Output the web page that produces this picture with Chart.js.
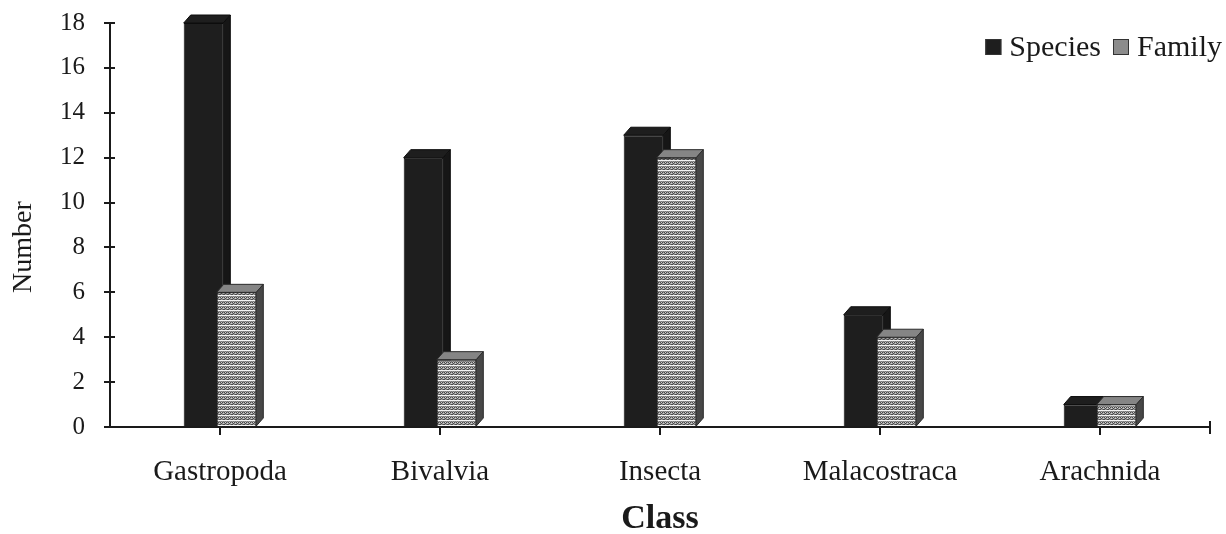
<!DOCTYPE html>
<html>
<head>
<meta charset="utf-8">
<title>Species and families per class</title>
<script src="https://cdn.jsdelivr.net/npm/chart.js@4.4.1/dist/chart.umd.min.js"></script>
<style>
  html, body { margin: 0; padding: 0; background: #ffffff; }
  #wrap { width: 1226px; height: 534px; }
</style>
</head>
<body>
<div id="wrap"><canvas id="chart" width="1226" height="534"></canvas></div>
<script>
// ---- data ----
const classes = ['Gastropoda', 'Bivalvia', 'Insecta', 'Malacostraca', 'Arachnida'];
const speciesCounts = [18, 12, 13, 5, 1];
const familyCounts = [6, 3, 12, 4, 1];
const yTickValues = [0, 2, 4, 6, 8, 10, 12, 14, 16, 18];
const seriesNames = ['Species', 'Family'];
const xAxisTitle = 'Class';
const yAxisTitle = 'Number';

// ---- styling ----
const FONT = "'Liberation Serif', 'Times New Roman', serif";
const INK = '#1a1a1a';
const depth = { dx: 7, dy: 8 };

// dotted grey texture with thin white rules for the family columns
function makeFamilyPattern(ctx) {
  const p = document.createElement('canvas');
  p.width = 4; p.height = 5;
  const g = p.getContext('2d');
  g.fillStyle = '#9a9a9a'; g.fillRect(0, 0, 4, 5);
  g.fillStyle = '#f4f4f4'; g.fillRect(0, 0, 4, 1);
  g.fillStyle = '#d0d0d0'; g.fillRect(1, 2, 1, 1); g.fillRect(3, 3, 1, 1);
  g.fillStyle = '#4a4a4a';
  g.fillRect(0, 2, 1, 1); g.fillRect(2, 2, 1, 1);
  g.fillRect(1, 3, 1, 1); g.fillRect(3, 4, 1, 1); g.fillRect(0, 4, 1, 1);
  g.fillStyle = '#777777'; g.fillRect(2, 4, 1, 1); g.fillRect(1, 1, 1, 1); g.fillRect(3, 1, 1, 1);
  return ctx.createPattern(p, 'repeat');
}

const canvas = document.getElementById('chart');
const ctx0 = canvas.getContext('2d');
const familyFill = makeFamilyPattern(ctx0);

const faceStyles = {
  species: { top: '#1e1e1e', side: '#161616', edge: '#0c0c0c' },
  family: { top: '#858585', side: '#474747', edge: '#2a2a2a' }
};
const legendSwatches = ['#1e1e1e', '#8c8c8c'];

function drawFaces(ctx, el, st) {
  const { x, y, base, width } = el.getProps(['x', 'y', 'base', 'width'], true);
  const l = x - width / 2, r = x + width / 2;
  const { dx, dy } = depth;
  ctx.lineWidth = 1;
  ctx.strokeStyle = st.edge;
  // top face
  ctx.beginPath();
  ctx.moveTo(l, y); ctx.lineTo(l + dx, y - dy); ctx.lineTo(r + dx, y - dy); ctx.lineTo(r, y);
  ctx.closePath();
  ctx.fillStyle = st.top; ctx.fill(); ctx.stroke();
  // right side face
  ctx.beginPath();
  ctx.moveTo(r, y); ctx.lineTo(r + dx, y - dy); ctx.lineTo(r + dx, base - dy); ctx.lineTo(r, base);
  ctx.closePath();
  ctx.fillStyle = st.side; ctx.fill(); ctx.stroke();
}

// extrudes the columns and draws legend, rotated y title and axis tick details
const columns3d = {
  id: 'columns3d',
  afterDatasetsDraw(chart) {
    const ctx = chart.ctx;
    const sp = chart.getDatasetMeta(0);
    const fa = chart.getDatasetMeta(1);
    ctx.save();
    sp.data.forEach(el => drawFaces(ctx, el, faceStyles.species));
    fa.data.forEach(el => { el.draw(ctx); drawFaces(ctx, el, faceStyles.family); });
    ctx.restore();
  },
  afterDraw(chart) {
    const ctx = chart.ctx;
    const { x: xs, y: ys } = chart.scales;
    ctx.save();
    ctx.strokeStyle = INK;
    ctx.lineWidth = 2;
    // inner halves of the y ticks
    ys.ticks.forEach((t, i) => {
      const py = Math.round(ys.getPixelForTick(i));
      ctx.beginPath(); ctx.moveTo(xs.left, py); ctx.lineTo(xs.left + 5, py); ctx.stroke();
    });
    // closing tick at the end of the category axis
    ctx.beginPath(); ctx.moveTo(xs.right, xs.top - 6); ctx.lineTo(xs.right, xs.top + 7); ctx.stroke();

    // y axis title
    ctx.fillStyle = INK;
    ctx.font = `28px ${FONT}`;
    ctx.textAlign = 'center';
    ctx.textBaseline = 'middle';
    ctx.translate(24, 247);
    ctx.rotate(-Math.PI / 2);
    ctx.fillText(yAxisTitle, 0, 0);
    ctx.setTransform(1, 0, 0, 1, 0, 0);

    // legend, right aligned at the top
    ctx.font = `30px ${FONT}`;
    ctx.textAlign = 'left';
    ctx.textBaseline = 'alphabetic';
    const box = 16, gapIn = 8, gapOut = 12;
    const labels = chart.data.datasets.map(d => d.label);
    const widths = labels.map(s => ctx.measureText(s).width);
    let total = 0;
    labels.forEach((s, i) => { total += box + gapIn + widths[i] + (i < labels.length - 1 ? gapOut : 0); });
    let cx = 1222 - total;
    labels.forEach((s, i) => {
      ctx.fillStyle = legendSwatches[i];
      ctx.fillRect(cx, 39, box, box);
      ctx.lineWidth = 1;
      ctx.strokeStyle = '#333';
      ctx.strokeRect(cx + 0.5, 39.5, box - 1, box - 1);
      cx += box + gapIn;
      ctx.fillStyle = INK;
      ctx.fillText(s, cx, 56);
      cx += widths[i] + gapOut;
    });
    ctx.restore();
  }
};

new Chart(canvas, {
  type: 'bar',
  data: {
    labels: classes,
    datasets: [
      {
        label: seriesNames[0],
        data: speciesCounts,
        backgroundColor: '#1e1e1e',
        borderColor: '#0c0c0c',
        borderWidth: 1,
        categoryPercentage: 0.3,
        barPercentage: 1.2
      },
      {
        label: seriesNames[1],
        data: familyCounts,
        backgroundColor: familyFill,
        borderColor: '#2a2a2a',
        borderWidth: 1,
        categoryPercentage: 0.3,
        barPercentage: 1.2
      }
    ]
  },
  options: {
    responsive: false,
    devicePixelRatio: 1,
    animation: false,
    layout: { padding: { top: 23, right: 16, left: 0, bottom: 0 } },
    plugins: {
      legend: { display: false },
      tooltip: { enabled: false }
    },
    scales: {
      x: {
        offset: true,
        afterFit(scale) { scale.height = 107; },
        border: { display: true, color: INK, width: 2 },
        grid: { display: true, drawOnChartArea: false, drawTicks: true, tickLength: 8, color: INK, lineWidth: 2, offset: false },
        ticks: { color: INK, padding: 20, font: { family: FONT, size: 29 }, maxRotation: 0 },
        title: { display: true, text: xAxisTitle, color: INK, padding: 0, font: { family: FONT, size: 34, weight: 'bold', lineHeight: 0.85 } }
      },
      y: {
        min: 0,
        max: 18,
        afterFit(scale) {
          scale.width = 110;
          scale.paddingTop = 4;
          scale.paddingBottom = 4;
        },
        afterBuildTicks(scale) { scale.ticks = yTickValues.map(v => ({ value: v })); },
        border: { display: true, color: INK, width: 2 },
        grid: { display: true, drawOnChartArea: false, drawTicks: true, tickLength: 6, color: INK, lineWidth: 2 },
        ticks: { color: INK, padding: 19, font: { family: FONT, size: 25 } },
        title: { display: false }
      }
    }
  },
  plugins: [columns3d]
});
</script>
</body>
</html>
